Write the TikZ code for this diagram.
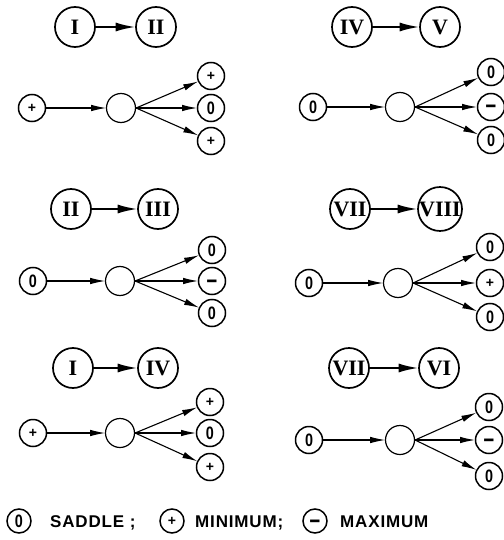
\documentclass[tikz,border=0pt]{standalone}
\usepackage{fontspec}
\setmainfont{Liberation Serif}
\newfontfamily\legendfont[LetterSpace=5]{Liberation Sans}
\newfontfamily\glyphfont{Liberation Sans}
\usetikzlibrary{arrows.meta}

% glyphs placed inside the small state circles
\newcommand\symS{\glyphfont\bfseries\fontsize{18}{18}\selectfont\scalebox{0.8}[1]{0}}
\newcommand\symP{\glyphfont\bfseries\fontsize{14}{14}\selectfont +}
\newcommand\symM{\glyphfont\bfseries\fontsize{19}{19}\selectfont\raisebox{-7pt}[0pt][0pt]{\scalebox{1}[1.4]{–}}}

\tikzset{
  hdr/.style={circle, draw, line width=1.7pt, minimum size=40pt, inner sep=0pt,
    font=\bfseries\fontsize{22}{22}\selectfont},
  hdrarrow/.style={line width=2.2pt, -{Latex[length=20pt,width=9pt]}, shorten >=-0.5pt},
  state/.style={circle, draw, line width=1.5pt, minimum size=27pt, inner sep=0pt},
  hub/.style={circle, draw, line width=1.2pt, minimum size=29pt, inner sep=0pt},
  flow/.style={line width=1.1pt, -{Latex[length=15pt,width=6.5pt]}, shorten >=-0.3pt},
  key/.style={circle, draw, line width=1.5pt, minimum size=24pt, inner sep=0pt},
  keytext/.style={anchor=base west, inner sep=0pt,
    font=\legendfont\bfseries\fontsize{17}{17}\selectfont}
}

\begin{document}
\begin{tikzpicture}[x=1pt,y=-1pt]
\useasboundingbox (0,0) rectangle (503,540);

% transitions between regions
\foreach \n/\xa/\xb/\y/\la/\lb in {
  ha/75/156/27/I/II, hb/352/440/27/IV/V,
  hc/71/158/209/II/III, hd/350/440/209/VII/VIII,
  he/73/158/368/I/IV, hf/349/439/368/VII/VI}{
  \node[hdr] (\n-a) at (\xa,\y) {\la};
  \node[hdr] (\n-b) at (\xb,\y) {\lb};
  \draw[hdrarrow] (\n-a) -- (\n-b);
}

% branching of critical points
\foreach \n/\sx/\cx/\tx/\y/\ya/\yb/\yc/\gs/\ga/\gb/\gc in {
  ra/32/121/211/108/76/108/141/P/P/S/P,
  rb/313/400/491/107/72/107/140/S/S/M/S,
  rc/33/120/212/281/250/281/313/S/S/M/S,
  rd/309/398/490/283/247/283/317/S/S/P/S,
  re/33/120/210/433/402/433/467/P/P/S/P,
  rf/309/400/489/440/407/440/476/S/S/M/S}{
  \node[state] (\n-s) at (\sx,\y) {\csname sym\gs\endcsname};
  \node[hub] (\n-c) at (\cx,\y) {};
  \node[state] (\n-1) at (\tx,\ya) {\csname sym\ga\endcsname};
  \node[state] (\n-2) at (\tx,\yb) {\csname sym\gb\endcsname};
  \node[state] (\n-3) at (\tx,\yc) {\csname sym\gc\endcsname};
  \draw[flow] (\n-s) -- (\n-c);
  \draw[flow] (\n-c.east) -- (\n-1);
  \draw[flow] (\n-c.east) -- (\n-2);
  \draw[flow] (\n-c.east) -- (\n-3);
}

% key
\node[key] (k-s) at (19,521) {\symS};
\node[keytext] (t-s) at (50,527) {SADDLE ;};
\node[key] (k-p) at (172,521) {\symP};
\node[keytext] (t-p) at (195,527) {MINIMUM;};
\node[key] (k-m) at (315,521) {\symM};
\node[keytext] (t-m) at (340,527) {MAXIMUM};
\end{tikzpicture}
\end{document}
